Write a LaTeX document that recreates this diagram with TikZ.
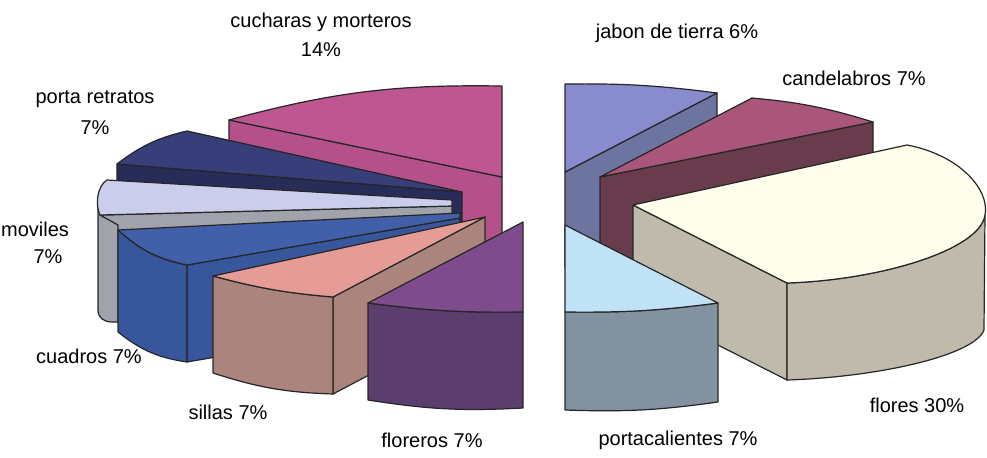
\documentclass[tikz,border=0pt]{standalone}
\usepackage{fontspec}
\setmainfont{Liberation Sans}
% colours of the slices, top face and side faces
\definecolor{cuchtop}{RGB}{190,86,146}
\definecolor{cuchside}{RGB}{180,80,138}
\definecolor{portop}{RGB}{56,62,122}
\definecolor{porside}{RGB}{40,44,88}
\definecolor{movtop}{RGB}{202,206,236}
\definecolor{movside}{RGB}{160,162,172}
\definecolor{cuadtop}{RGB}{66,96,170}
\definecolor{cuadside}{RGB}{56,86,156}
\definecolor{siltop}{RGB}{230,156,150}
\definecolor{silside}{RGB}{172,132,126}
\definecolor{flortop}{RGB}{126,76,140}
\definecolor{florside}{RGB}{92,62,110}
\definecolor{jabtop}{RGB}{136,140,206}
\definecolor{jabside}{RGB}{110,116,160}
\definecolor{candtop}{RGB}{170,86,122}
\definecolor{candside}{RGB}{104,60,76}
\definecolor{flotop}{RGB}{255,253,236}
\definecolor{floside}{RGB}{192,186,172}
\definecolor{pctop}{RGB}{192,226,246}
\definecolor{pcside}{RGB}{130,146,160}
\tikzset{
face/.style={draw=black!85, line width=0.6pt, line join=round}, % outline of every face
lbl/.style={font=\fontsize{10}{12}\selectfont, inner sep=0pt}, % slice labels
}

\begin{document}
\begin{tikzpicture}[x=0.5pt, y=-0.5pt]
    \useasboundingbox (0,0) rectangle (987,457);
    % left half of the pie, back slices first
    \filldraw[face, fill=cuchside] (229,120) -- (502,177) -- (502,275) -- (229,218) -- cycle;
    \filldraw[face, fill=cuchtop] (229,120) to[bend left=8] (502,86) -- (502,177) -- cycle;

    \filldraw[face, fill=porside] (117,164) -- (462,192) -- (462,290) -- (117,262) -- cycle;
    \filldraw[face, fill=portop] (117,164) to[bend left=12] (187,131) -- (462,192) -- cycle;

    \filldraw[face, fill=movside] (100,215) -- (452,206) -- (452,300) -- (100,310) -- cycle;
    \filldraw[face, fill=movside] (98,198) -- (98,310) .. controls (98,318) and (104,322) .. (112,322)
        -- (118,322) -- (118,225) -- (100,215) -- cycle;
    \filldraw[face, fill=movtop] (107,180) -- (452,200) -- (452,206) -- (100,215)
        .. controls (95,205) and (97,186) .. (107,180) -- cycle;

    \filldraw[face, fill=cuadside] (187,265) -- (460,218) -- (460,315) -- (187,362) -- cycle;
    \filldraw[face, fill=cuadside] (118,230) to[bend right=15] (187,265) -- (187,362)
        to[bend left=15] (118,332) -- cycle;
    \filldraw[face, fill=cuadtop] (118,230) -- (460,213) -- (460,218) -- (187,265)
        to[bend left=15] (118,230) -- cycle;

    \filldraw[face, fill=silside] (333,297) -- (485,217) -- (485,314) -- (333,394) -- cycle;
    \filldraw[face, fill=silside] (213,276) to[bend right=5] (333,297) -- (333,394)
        to[bend left=8] (213,373) -- cycle;
    \filldraw[face, fill=siltop] (213,276) -- (485,217) -- (333,297) to[bend left=5] (213,276) -- cycle;

    \filldraw[face, fill=florside] (368,303) to[bend right=4] (523,312) -- (523,408)
        to[bend left=6] (368,400) -- cycle;
    \filldraw[face, fill=flortop] (368,303) -- (523,222) -- (523,312) to[bend left=4] (368,303) -- cycle;

    % right half of the pie
    \filldraw[face, fill=jabside] (717,93) -- (565,172) -- (565,268) -- (717,190) -- cycle;
    \filldraw[face, fill=jabtop] (565,84) to[bend left=4] (717,93) -- (565,172) -- cycle;

    \filldraw[face, fill=candside] (600,177) -- (873,122) -- (873,219) -- (600,274) -- cycle;
    \filldraw[face, fill=candtop] (600,177) -- (752,98) to[bend left=6] (873,122) -- cycle;

    \filldraw[face, fill=floside] (633,205) -- (787,283) -- (787,380) -- (633,302) -- cycle;
    \filldraw[face, fill=floside] (787,283) .. controls (880,280) and (980,250) .. (985,215)
        -- (984,330) .. controls (975,355) and (880,377) .. (787,380) -- cycle;
    \filldraw[face, fill=flotop] (633,205) -- (907,145) .. controls (960,155) and (990,190) .. (985,215)
        .. controls (980,250) and (880,280) .. (787,283) -- cycle;

    \filldraw[face, fill=pcside] (565,312) to[bend right=4] (718,303) -- (718,402)
        to[bend left=5] (565,410) -- cycle;
    \filldraw[face, fill=pctop] (565,225) -- (718,303) to[bend left=4] (565,312) -- cycle;

    % labels
    \node[lbl] (cuch) at (321,22) {cucharas y morteros};
    \node[lbl] (cuchp) at (321,50) {14\%};
    \node[lbl] (jab) at (677,33) {jabon de tierra 6\%};
    \node[lbl] (cand) at (854,78) {candelabros 7\%};
    \node[lbl] (por) at (95,99) {porta retratos};
    \node[lbl] (porp) at (95,128) {7\%};
    \node[lbl] (mov) at (35,229) {moviles};
    \node[lbl] (movp) at (48,257) {7\%};
    \node[lbl] (cuad) at (89,356) {cuadros 7\%};
    \node[lbl] (sil) at (228,412) {sillas 7\%};
    \node[lbl] (flor) at (432,440) {floreros 7\%};
    \node[lbl] (pc) at (678,440) {portacalientes 7\%};
    \node[lbl] (flo) at (917,405) {flores 30\%};
\end{tikzpicture}
\end{document}
